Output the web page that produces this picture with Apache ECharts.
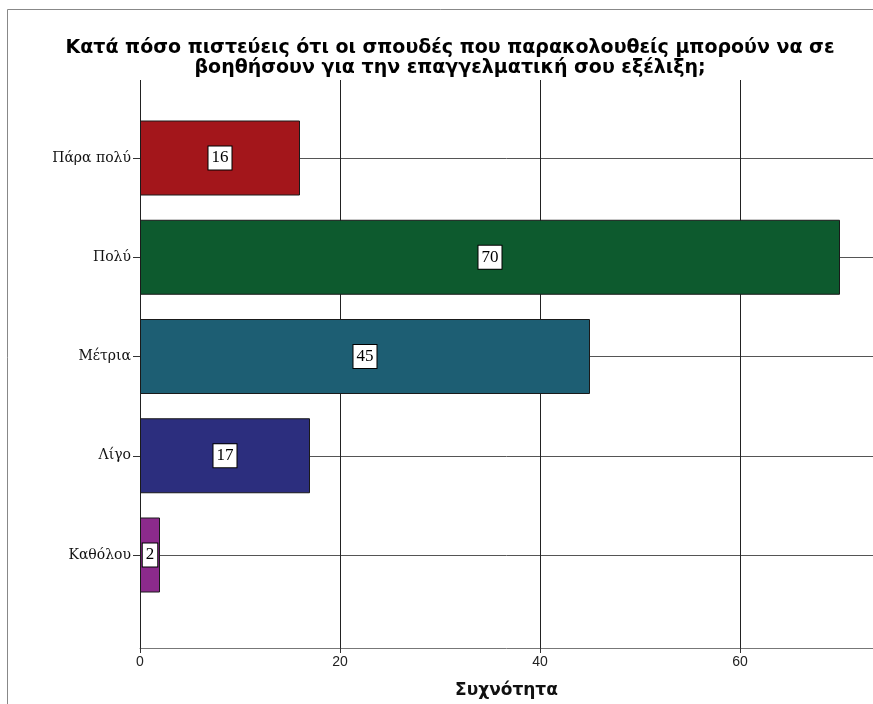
<!DOCTYPE html>
<html>
<head>
<meta charset="utf-8">
<script src="https://cdn.jsdelivr.net/npm/echarts@6/dist/echarts.min.js"></script>
<style>
html,body{margin:0;padding:0;background:#fff;}
#chart{width:873px;height:704px;}
</style>
</head>
<body>
<div id="chart"></div>
<script>
const titleText = 'Κατά πόσο πιστεύεις ότι οι σπουδές που παρακολουθείς μπορούν να σε\nβοηθήσουν για την επαγγελματική σου εξέλιξη;';
const categories = ['Πάρα πολύ', 'Πολύ', 'Μέτρια', 'Λίγο', 'Καθόλου'];
const counts = [16, 70, 45, 17, 2];
const barColors = ['#a3161b', '#0d5a2e', '#1d5e73', '#2c2e7e', '#8c2a8c'];
const xAxisName = 'Συχνότητα';
const xMax = 73.3;

const chart = echarts.init(document.getElementById('chart'), null, {renderer: 'canvas'});
chart.setOption({
  backgroundColor: '#ffffff',
  animation: false,
  title: {
    text: titleText,
    left: 445,
    textAlign: 'center',
    top: 33,
    textStyle: {
      fontFamily: 'DejaVu Sans, sans-serif',
      fontSize: 19,
      fontWeight: 'bold',
      color: '#000',
      lineHeight: 20
    }
  },
  graphic: [{
    type: 'rect',
    shape: {x: 7.5, y: 9.5, width: 900, height: 800},
    style: {fill: 'none', stroke: '#888', lineWidth: 1},
    silent: true,
    z: 100
  }],
  grid: [
    {left: 140, right: 0, top: 80, bottom: 51},
    {left: 140, right: 0, top: 158, bottom: 149}
  ],
  xAxis: [
    {
      type: 'value', gridIndex: 0, min: 0, max: xMax, interval: 20,
      name: xAxisName, nameLocation: 'middle', nameGap: 34,
      nameTextStyle: {fontFamily: 'DejaVu Sans, sans-serif', fontSize: 17, fontWeight: 'bold', color: '#111'},
      axisLine: {show: true, lineStyle: {color: '#777', width: 1}},
      axisTick: {show: true, length: 5, lineStyle: {color: '#333'}},
      axisLabel: {showMaxLabel: false, margin: 7, fontFamily: 'Liberation Sans Narrow, Liberation Sans, sans-serif', fontSize: 14, color: '#222'},
      splitLine: {show: true, showMaxLine: false, lineStyle: {color: '#222', width: 1}}
    },
    {
      type: 'value', gridIndex: 1, min: 0, max: xMax, show: false,
      splitLine: {show: false}
    }
  ],
  yAxis: [
    {type: 'value', gridIndex: 0, show: false, min: 0, max: 1},
    {
      type: 'category', gridIndex: 1, data: categories, inverse: true, boundaryGap: false,
      axisLine: {show: false},
      axisTick: {show: true, length: 7, interval: 0, lineStyle: {color: '#333'}},
      axisLabel: {interval: 0, margin: 9, fontFamily: 'DejaVu Serif, serif', fontSize: 14, color: '#111'},
      splitLine: {show: true, interval: 0, lineStyle: {color: '#555', width: 1}}
    }
  ],
  series: [{
    type: 'bar',
    xAxisIndex: 1,
    yAxisIndex: 1,
    clip: false,
    barWidth: 75,
    data: counts.map((v, i) => ({value: v, itemStyle: {color: barColors[i]}})),
    itemStyle: {borderColor: '#1a1a1a', borderWidth: 1},
    label: {
      show: true, position: 'inside',
      backgroundColor: '#fff', borderColor: '#000', borderWidth: 1,
      padding: [4, 3, 2, 3],
      color: '#000', fontFamily: 'Liberation Serif, DejaVu Serif, serif', fontSize: 17
    }
  }]
});
</script>
</body>
</html>
